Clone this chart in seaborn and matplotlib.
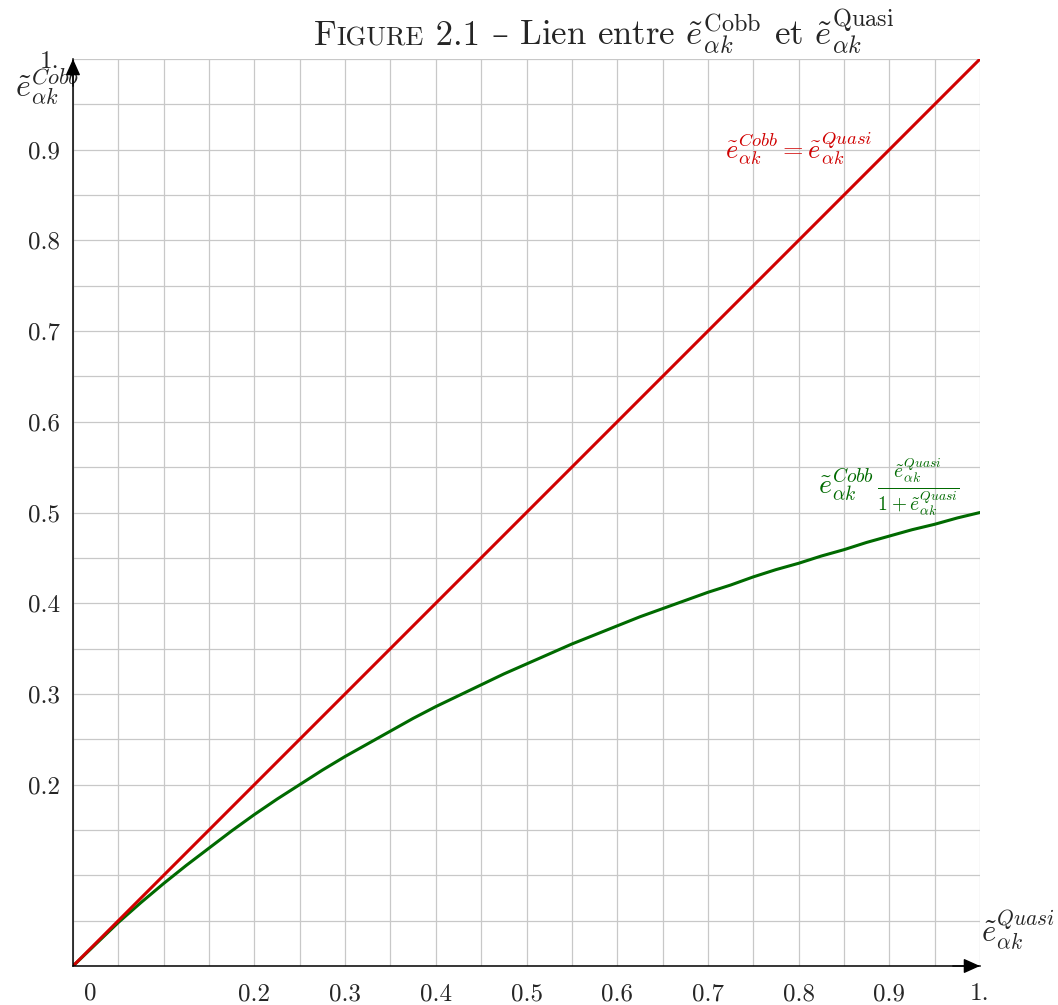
import numpy as np
import pandas as pd
import matplotlib
matplotlib.use("Agg")
import matplotlib.pyplot as plt
from matplotlib.text import Annotation
from matplotlib.ticker import MultipleLocator, FixedLocator
import seaborn as sns

# values (x step 0.025)
e_quasi = [0.000, 0.025, 0.050, 0.075, 0.100, 0.125, 0.150, 0.175, 0.200, 0.225,
           0.250, 0.275, 0.300, 0.325, 0.350, 0.375, 0.400, 0.425, 0.450, 0.475,
           0.500, 0.525, 0.550, 0.575, 0.600, 0.625, 0.650, 0.675, 0.700, 0.725,
           0.750, 0.775, 0.800, 0.825, 0.850, 0.875, 0.900, 0.925, 0.950, 0.975, 1.000]
e_cobb_equal = list(e_quasi)
e_cobb_ratio = [0.000, 0.024, 0.048, 0.070, 0.091, 0.111, 0.130, 0.149, 0.167, 0.184,
                0.200, 0.216, 0.231, 0.245, 0.259, 0.273, 0.286, 0.298, 0.310, 0.322,
                0.333, 0.344, 0.355, 0.365, 0.375, 0.385, 0.394, 0.403, 0.412, 0.420,
                0.429, 0.437, 0.444, 0.452, 0.459, 0.467, 0.474, 0.481, 0.487, 0.494, 0.500]
x_ticks = [0.2, 0.3, 0.4, 0.5, 0.6, 0.7, 0.8, 0.9, 1.0]
x_tick_labels = ["0.2", "0.3", "0.4", "0.5", "0.6", "0.7", "0.8", "0.9", "1."]
y_ticks = [0.2, 0.3, 0.4, 0.5, 0.6, 0.7, 0.8, 0.9, 1.0]
y_tick_labels = ["0.2", "0.3", "0.4", "0.5", "0.6", "0.7", "0.8", "0.9", "1."]

sns.set_style("white")
plt.rcParams["mathtext.fontset"] = "cm"
plt.rcParams["font.family"] = ["cmr10", "DejaVu Serif"]
plt.rcParams["axes.unicode_minus"] = False

RED = "#d00000"
GREEN = "#006a00"

fig = plt.figure(figsize=(10.58, 10.05), dpi=100)
ax = fig.add_axes([73 / 1058, 39 / 1005, 907 / 1058, 907 / 1005])

df = pd.DataFrame({"quasi": e_quasi, "equal": e_cobb_equal, "ratio": e_cobb_ratio})
sns.lineplot(data=df, x="quasi", y="ratio", ax=ax, color=GREEN, lw=2.2, zorder=3)
sns.lineplot(data=df, x="quasi", y="equal", ax=ax, color=RED, lw=2.2, zorder=4)

ax.set_xlim(0, 1)
ax.set_ylim(0, 1)
ax.set_xlabel("")
ax.set_ylabel("")

# grid every 0.05
ax.xaxis.set_minor_locator(MultipleLocator(0.05))
ax.yaxis.set_minor_locator(MultipleLocator(0.05))
ax.grid(which="both", color="#c8c8c8", lw=0.9, zorder=0)
ax.set_axisbelow(True)

ax.xaxis.set_major_locator(FixedLocator(x_ticks))
ax.yaxis.set_major_locator(FixedLocator(y_ticks))
ax.set_xticklabels(x_tick_labels)
ax.set_yticklabels(y_tick_labels)
ax.tick_params(which="major", direction="inout", length=7, width=1, color="black",
               labelsize=18, pad=6)
ax.tick_params(which="minor", length=0)
ax.tick_params(axis="x", pad=9)

for side in ["top", "right"]:
    ax.spines[side].set_visible(False)
for side in ["left", "bottom"]:
    ax.spines[side].set_color("black")
    ax.spines[side].set_linewidth(1.1)
    ax.spines[side].set_zorder(5)

# arrow heads
for tip, tail in [((1, 0), (0.97, 0)), ((0, 1), (0, 0.97))]:
    ax.annotate("", xy=tip, xytext=tail, xycoords="data",
                arrowprops=dict(arrowstyle="-|>,head_length=1.0,head_width=0.45",
                                color="black", lw=1, shrinkA=0, shrinkB=0),
                annotation_clip=False, zorder=6)

ax.annotate("0", xy=(0, 0), xytext=(17, -33), textcoords="offset pixels",
            ha="center", va="baseline", fontsize=18, annotation_clip=False)

# axis labels
ax.text(-0.029, 0.97, r"$\tilde{e}_{\alpha k}^{Cobb}$", fontsize=23,
        ha="center", va="center", transform=ax.transAxes)
ax.text(1.042, 0.04, r"$\tilde{e}_{\alpha k}^{Quasi}$", fontsize=22,
        ha="center", va="center", transform=ax.transAxes)

# curve labels
ax.text(0.80, 0.902, r"$\tilde{e}_{\alpha k}^{Cobb}=\tilde{e}_{\alpha k}^{Quasi}$",
        color=RED, fontsize=19, ha="center", va="center")
ax.text(0.899, 0.528,
        r"$\tilde{e}_{\alpha k}^{Cobb}\,\frac{\tilde{e}_{\alpha k}^{Quasi}}{1+\tilde{e}_{\alpha k}^{Quasi}}$",
        color=GREEN, fontsize=20, ha="center", va="center")

# title with small caps "Figure"
base_y = 1 - 45 / 1005
t1 = fig.text(314 / 1058, base_y, "F", fontsize=25, va="baseline", ha="left")
pieces = [("IGURE", 19, None), (" 2.1 ", 25, None), ("–", 24, "DejaVu Serif"),
          (r" Lien entre $\tilde{e}_{\alpha k}^{\mathrm{Cobb}}$ et $\tilde{e}_{\alpha k}^{\mathrm{Quasi}}$", 25, None)]
prev = t1
for txt, size, fam in pieces:
    kw = {"family": fam} if fam else {}
    prev = fig.add_artist(Annotation(txt, xy=(1, base_y), xycoords=(prev, "figure fraction"),
                                     fontsize=size, va="baseline", ha="left", **kw))

fig.savefig("out.png", dpi=100)
